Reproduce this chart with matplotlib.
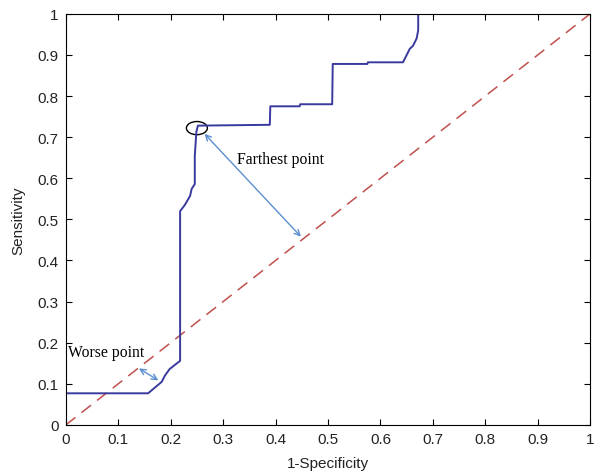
import matplotlib
matplotlib.use("Agg")
import matplotlib.pyplot as plt
from matplotlib.patches import Ellipse

# ROC curve
fpr = [0.0, 0.0, 0.157, 0.183, 0.189, 0.198, 0.218, 0.218, 0.227, 0.237, 0.240, 0.246,
       0.246, 0.249, 0.252, 0.389, 0.390, 0.446, 0.447, 0.508, 0.509, 0.575, 0.576,
       0.643, 0.656, 0.662, 0.669, 0.672, 0.672]
tpr = [0.054, 0.077, 0.077, 0.105, 0.120, 0.136, 0.156, 0.520, 0.535, 0.557, 0.574, 0.586,
       0.655, 0.713, 0.728, 0.730, 0.775, 0.775, 0.780, 0.780, 0.878, 0.878, 0.882,
       0.882, 0.915, 0.922, 0.940, 0.960, 1.0]

diag_x = [0, 1]
diag_y = [0, 1]

ticks = [0, 0.1, 0.2, 0.3, 0.4, 0.5, 0.6, 0.7, 0.8, 0.9, 1]
tick_labels = ["0", "0.1", "0.2", "0.3", "0.4", "0.5", "0.6", "0.7", "0.8", "0.9", "1"]

farthest_pt = (0.261, 0.713)
farthest_foot = (0.452, 0.453)
worse_pt = (0.181, 0.105)
worse_foot = (0.135, 0.141)
best_center = (0.25, 0.722)

fig = plt.figure(figsize=(5.98, 4.77), dpi=100)
ax = fig.add_axes([0.110, 0.107, 0.877, 0.862])

ax.plot(diag_x, diag_y, color="#c0504d", lw=1.1, dashes=(8, 5))
ax.plot(fpr, tpr, color="#3a3a9e", lw=1.4)

ax.add_patch(Ellipse(best_center, 0.040, 0.032, fill=False, edgecolor="black", lw=1.0))

arrow_kw = dict(arrowstyle="<->", color="#5b8fd0", lw=1.0, mutation_scale=10)
ax.annotate("", xy=farthest_pt, xytext=farthest_foot, arrowprops=arrow_kw)
ax.annotate("", xy=worse_pt, xytext=worse_foot, arrowprops=arrow_kw)

serif = ["Liberation Serif", "DejaVu Serif"]
ax.text(0.326, 0.647, "Farthest point", family=serif, fontsize=11.3, va="center", ha="left")
ax.text(0.004, 0.178, "Worse point", family=serif, fontsize=11.3, va="center", ha="left")

ax.set_xlim(0, 1)
ax.set_ylim(0, 1)
ax.set_xticks(ticks)
ax.set_xticklabels(tick_labels, family="Liberation Sans", fontsize=11, color="#222222")
ax.set_yticks(ticks)
ax.set_yticklabels(tick_labels, family="Liberation Sans", fontsize=11, color="#222222")
ax.tick_params(direction="in", top=True, right=True, length=4, width=0.8, pad=5)
for s in ax.spines.values():
    s.set_linewidth(0.8)

ax.set_xlabel("1-Specificity", family="Liberation Sans", fontsize=11, labelpad=7, color="#222222")
ax.set_ylabel("Sensitivity", family="Liberation Sans", fontsize=11, labelpad=9, color="#222222")

fig.savefig("out.png", dpi=100)
